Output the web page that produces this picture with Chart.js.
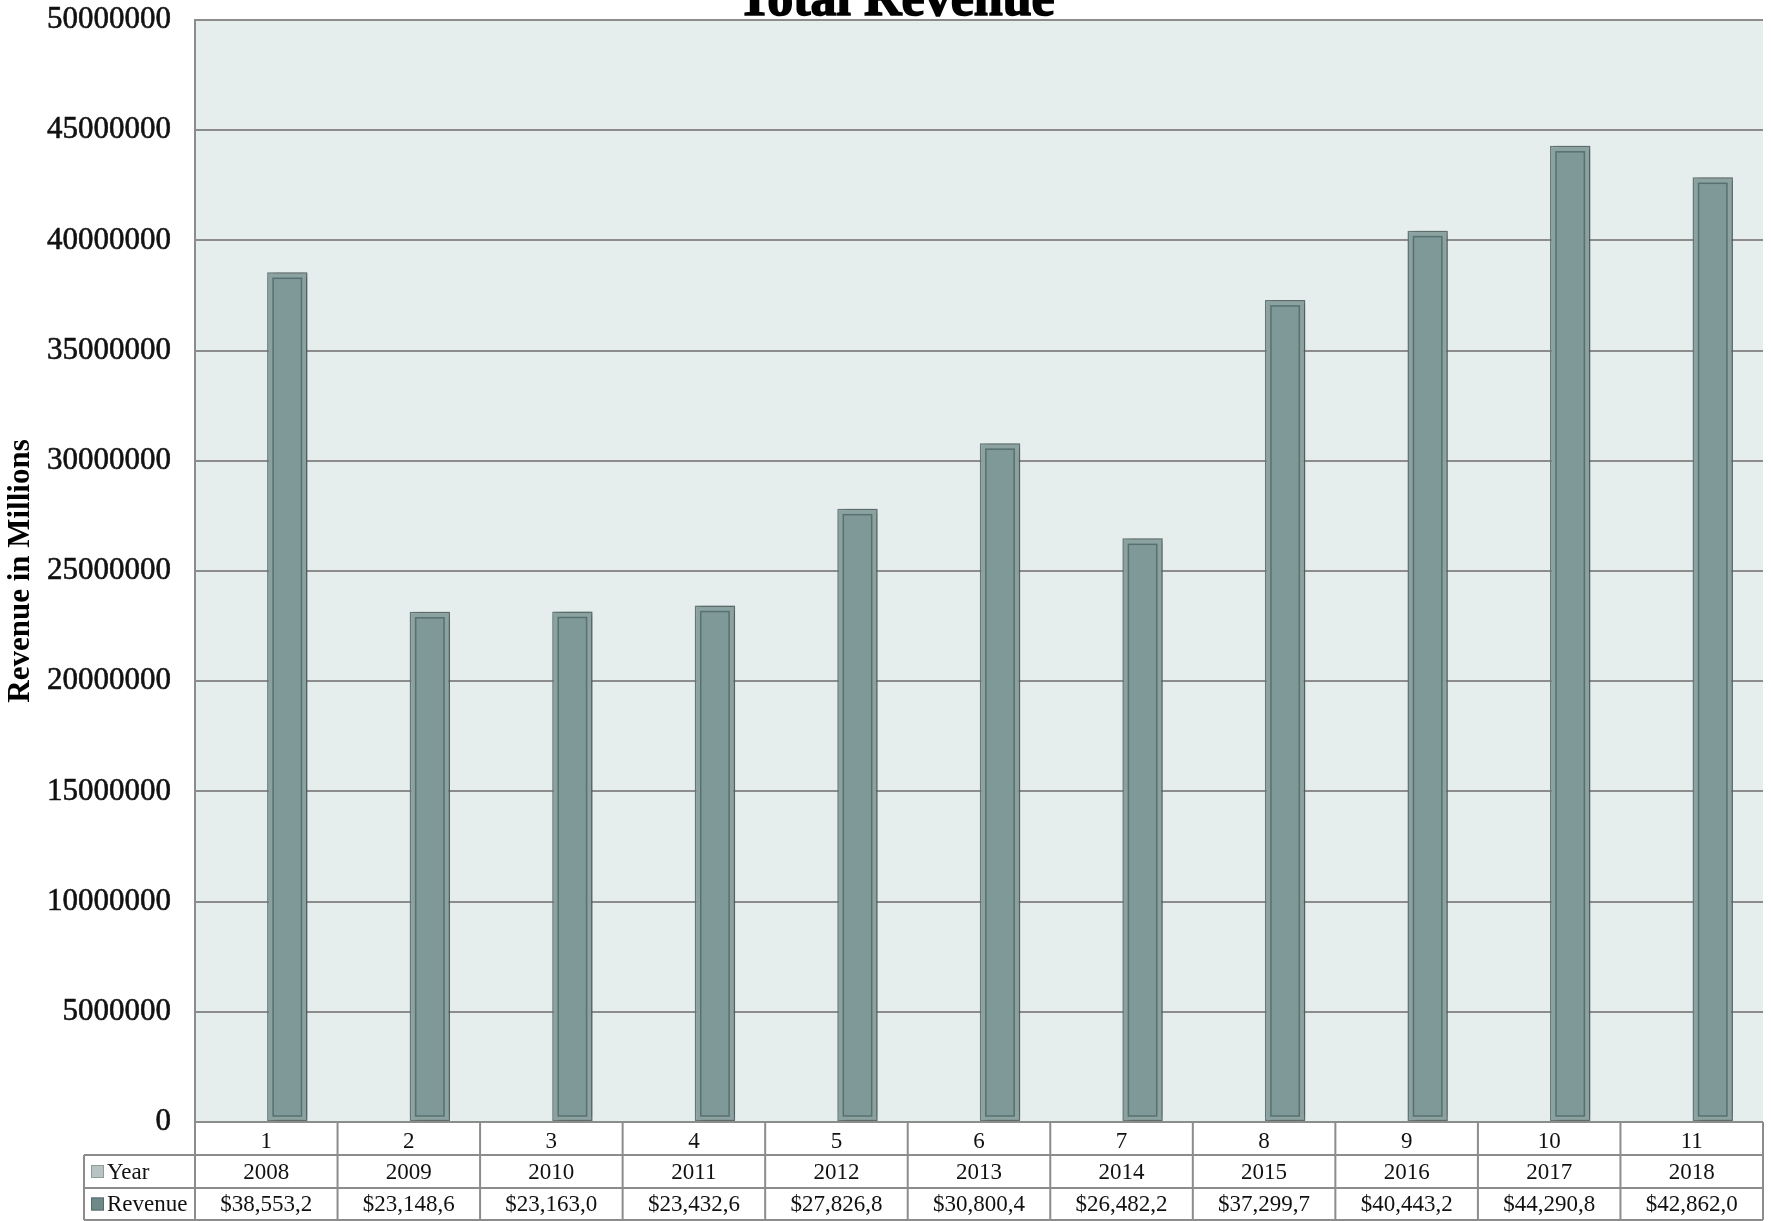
<!DOCTYPE html>
<html>
<head>
<meta charset="utf-8">
<title>Total Revenue</title>
<script src="https://cdn.jsdelivr.net/npm/chart.js@4.4.1/dist/chart.umd.min.js"></script>
<style>
  html, body { margin: 0; padding: 0; background: #ffffff; overflow: hidden; }
  canvas { display: block; }
</style>
</head>
<body>
<canvas id="revenueChart" width="1771" height="1221"></canvas>
<script>
// values
const categories = ['1', '2', '3', '4', '5', '6', '7', '8', '9', '10', '11'];
const years = [2008, 2009, 2010, 2011, 2012, 2013, 2014, 2015, 2016, 2017, 2018];
const revenue = [38553200, 23148600, 23163000, 23432600, 27826800, 30800400,
  26482200, 37299700, 40443200, 44290800, 42862000];
// table cells as printed (cut off in the original)
const revenueLabels = ['$38,553,2', '$23,148,6', '$23,163,0', '$23,432,6', '$27,826,8',
  '$30,800,4', '$26,482,2', '$37,299,7', '$40,443,2', '$44,290,8', '$42,862,0'];
const seriesNames = ['Year', 'Revenue'];

const SERIF = '"Liberation Serif", "Times New Roman", serif';
const gridGray = '#8c8c8c';

// plot background
const plotBackground = {
  id: 'plotBackground',
  beforeDraw(chart) {
    const { ctx, chartArea: a } = chart;
    ctx.save();
    ctx.fillStyle = '#e6eeed';
    ctx.fillRect(a.left, a.top, a.right - a.left, a.bottom - a.top);
    ctx.restore();
  }
};

// soft shadow behind the revenue bars, then the inner frame
const barStyle = {
  id: 'barStyle',
  beforeDatasetDraw(chart, args) {
    if (args.index !== 1) return;
    const ctx = chart.ctx;
    ctx.save();
    ctx.shadowColor = 'rgba(0,0,0,0.35)';
    ctx.shadowBlur = 8;
    ctx.shadowOffsetX = 3;
  },
  afterDatasetDraw(chart, args) {
    if (args.index !== 1) return;
    const ctx = chart.ctx;
    ctx.restore();
    ctx.save();
    chart.getDatasetMeta(1).data.forEach(bar => {
      const { x, y, base, width } = bar.getProps(['x', 'y', 'base', 'width'], true);
      const l = x - width / 2 + 6, r = x + width / 2 - 6;
      const t = y + 6, b = base - 5;
      ctx.fillStyle = '#7f9998';
      ctx.fillRect(l, t, r - l, b - t);
      ctx.strokeStyle = '#587070';
      ctx.lineWidth = 1.5;
      ctx.strokeRect(l, t, r - l, b - t);
    });
    ctx.restore();
  }
};

// title sits partly above the top edge, as in the original
const topTitle = {
  id: 'topTitle',
  afterDraw(chart) {
    const ctx = chart.ctx;
    ctx.save();
    ctx.font = 'bold 52px ' + SERIF;
    ctx.fillStyle = '#000';
    ctx.strokeStyle = '#000';
    ctx.lineWidth = 1.5;
    ctx.textAlign = 'center';
    ctx.textBaseline = 'alphabetic';
    ctx.fillText('Total Revenue', 896, 15);
    ctx.strokeText('Total Revenue', 896, 15);
    ctx.restore();
  }
};

// data table under the x axis
const dataTable = {
  id: 'dataTable',
  afterDraw(chart) {
    const { ctx, chartArea: a } = chart;
    const xs = chart.scales.x;
    const n = categories.length;
    const colW = (a.right - a.left) / n;
    const rowTop = [a.bottom, a.bottom + 33, a.bottom + 66, a.bottom + 98];
    const labelLeft = 84;

    ctx.save();
    ctx.strokeStyle = gridGray;
    ctx.lineWidth = 2;
    ctx.beginPath();
    ctx.moveTo(a.left, rowTop[0]); ctx.lineTo(a.right, rowTop[0]);
    for (let r = 1; r < 4; r++) {
      ctx.moveTo(labelLeft, rowTop[r]); ctx.lineTo(a.right, rowTop[r]);
    }
    for (let i = 0; i <= n; i++) {
      const xx = a.left + i * colW;
      ctx.moveTo(xx, rowTop[0]); ctx.lineTo(xx, rowTop[3]);
    }
    ctx.moveTo(labelLeft, rowTop[1]); ctx.lineTo(labelLeft, rowTop[3]);
    ctx.stroke();

    ctx.fillStyle = '#111';
    ctx.font = '23px ' + SERIF;
    ctx.textAlign = 'center';
    ctx.textBaseline = 'middle';
    for (let i = 0; i < n; i++) {
      const cx = xs.getPixelForValue(i);
      ctx.fillText(String(years[i]), cx, (rowTop[1] + rowTop[2]) / 2 + 1);
      ctx.fillText(revenueLabels[i], cx, (rowTop[2] + rowTop[3]) / 2 + 1);
    }

    // legend keys in the label column
    const keys = [
      { fill: '#b7c4c3', edge: '#8e9d9c' },
      { fill: '#6f8988', edge: '#566c6b' }
    ];
    ctx.textAlign = 'left';
    seriesNames.forEach((name, k) => {
      const cy = (rowTop[k + 1] + rowTop[k + 2]) / 2;
      ctx.fillStyle = keys[k].fill;
      ctx.fillRect(91, cy - 6.5, 13, 13);
      ctx.strokeStyle = keys[k].edge;
      ctx.lineWidth = 1;
      ctx.strokeRect(91.5, cy - 6, 12, 12);
      ctx.fillStyle = '#111';
      ctx.fillText(name, 107, cy + 1);
    });
    ctx.restore();
  }
};

new Chart(document.getElementById('revenueChart'), {
  type: 'bar',
  data: {
    labels: categories,
    datasets: [
      {
        label: seriesNames[0],
        data: years,
        backgroundColor: '#b7c4c3',
        borderWidth: 0,
        categoryPercentage: 0.59,
        barPercentage: 0.96
      },
      {
        label: seriesNames[1],
        data: revenue,
        backgroundColor: '#8aa2a0',
        borderColor: '#6c7f7e',
        borderWidth: 1.5,
        borderSkipped: false,
        categoryPercentage: 0.59,
        barPercentage: 0.96
      }
    ]
  },
  options: {
    responsive: false,
    devicePixelRatio: 1,
    animation: false,
    layout: { padding: { top: 20, right: 8, bottom: 0, left: 0 } },
    plugins: {
      legend: { display: false },
      title: { display: false },
      tooltip: { enabled: false }
    },
    scales: {
      x: {
        grid: { display: false, drawTicks: false },
        border: { display: false },
        ticks: {
          padding: 6,
          color: '#111',
          font: { family: SERIF, size: 23 }
        },
        afterFit(scale) { scale.height = 99; }
      },
      y: {
        min: 0,
        max: 50000000,
        grid: { color: gridGray, lineWidth: 2, drawTicks: false },
        border: { display: true, color: gridGray, width: 2 },
        ticks: {
          stepSize: 5000000,
          padding: 24,
          color: '#111',
          textStrokeColor: '#111',
          textStrokeWidth: 0.6,
          font: { family: SERIF, size: 31 },
          callback: v => String(v)
        },
        title: {
          display: true,
          text: 'Revenue in Millions',
          color: '#000',
          font: { family: SERIF, size: 31, weight: 'bold' },
          padding: { top: 2, bottom: 0 }
        },
        afterFit(scale) {
          scale.width = 195;
          scale.paddingTop = 0;
          scale.paddingBottom = 0;
        }
      }
    }
  },
  plugins: [plotBackground, barStyle, dataTable, topTitle]
});
</script>
</body>
</html>
